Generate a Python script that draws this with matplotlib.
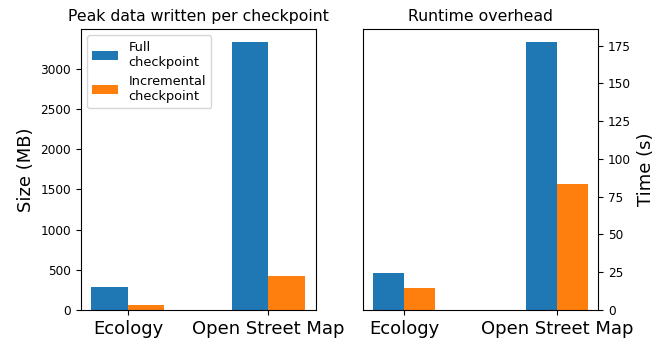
import matplotlib.pyplot as plt
import numpy as np

categories = ['Ecology', 'Open Street Map']
size_full = [281, 3325]
size_incr = [62, 421]
time_full = [24.2, 177.2]
time_incr = [14.3, 83.2]
labels = ['Full\ncheckpoint', 'Incremental\ncheckpoint']

def plot_checkpoints():
    fig = plt.figure(figsize=(6.63, 3.39), dpi=100)
    ax1 = fig.add_axes([0.1217, 0.0855, 0.3545, 0.829])
    ax2 = fig.add_axes([0.547, 0.0855, 0.3554, 0.829])
    x = np.arange(len(categories))

    w = 0.26
    ax1.bar(x - w / 2, size_full, w, label=labels[0], color='#1f77b4')
    ax1.bar(x + w / 2, size_incr, w, label=labels[1], color='#ff7f0e')
    ax1.set_xticks(x)
    ax1.set_xticklabels(categories, fontsize=13)
    ax1.set_ylabel('Size (MB)', fontsize=13)
    ax1.set_title('Peak data written per checkpoint', fontsize=11.3)
    ax1.tick_params(axis='y', labelsize=8.7)
    ax1.legend(loc='upper left', fontsize=9.3)

    w = 0.2
    ax2.bar(x - w / 2, time_full, w, label=labels[0], color='#1f77b4')
    ax2.bar(x + w / 2, time_incr, w, label=labels[1], color='#ff7f0e')
    ax2.set_xticks(x)
    ax2.set_xticklabels(categories, fontsize=13)
    ax2.yaxis.tick_right()
    ax2.yaxis.set_label_position('right')
    ax2.set_ylabel('Time (s)', fontsize=13)
    ax2.set_title('Runtime overhead', fontsize=11.3)
    ax2.tick_params(axis='y', labelsize=8.7)

    plt.savefig('out.png', dpi=100)
    plt.close()

if __name__ == "__main__":
    plot_checkpoints()
